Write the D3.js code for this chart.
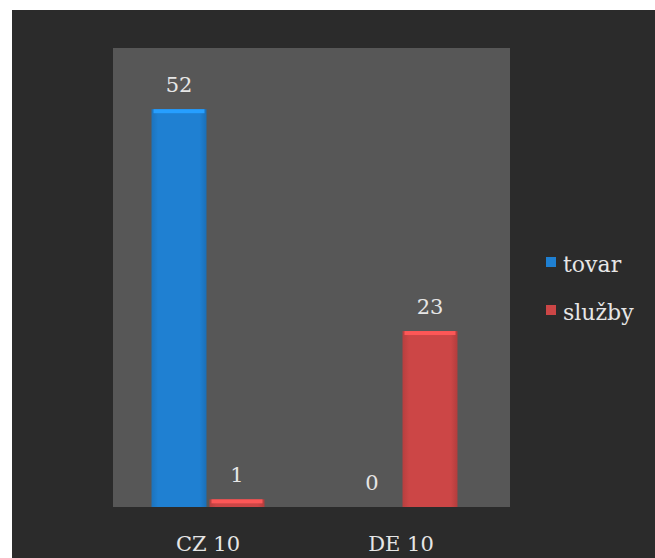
<!DOCTYPE html>
<html>
<head>
<meta charset="utf-8">
<script src="https://cdn.jsdelivr.net/npm/d3@7"></script>
<style>
  body { margin: 0; background: #ffffff; }
  svg { display: block; }
  .lbl { font-family: "DejaVu Serif", "Liberation Serif", serif; fill: #e6e6e6; }
</style>
</head>
<body>
<div id="chart"></div>
<script>
const categories = ["CZ 10", "DE 10"];
const seriesNames = ["tovar", "služby"];
const tovar = [52, 0];
const sluzby = [1, 23];
const yTicks = [0, 60];

const WIDTH = 655, HEIGHT = 558;
const COLORS = ["#1f80d2", "#cc4646"];
const plot = { left: 113, right: 510, top: 48, bottom: 507 };

window.onload = function() {
  let svg = d3.select("#chart").append("svg")
    .attr("width", WIDTH).attr("height", HEIGHT);

  let defs = svg.append("defs");
  COLORS.forEach(function(c, i) {
    let g = defs.append("linearGradient").attr("id", "grad" + i)
      .attr("x1", 0).attr("x2", 1).attr("y1", 0).attr("y2", 0);
    g.append("stop").attr("offset", "0%").attr("stop-color", d3.color(c).darker(0.3));
    g.append("stop").attr("offset", "12%").attr("stop-color", c);
    g.append("stop").attr("offset", "88%").attr("stop-color", c);
    g.append("stop").attr("offset", "100%").attr("stop-color", d3.color(c).darker(0.4));
  });

  // outer dark frame
  svg.append("rect").attr("x", 12).attr("y", 10)
    .attr("width", WIDTH - 12).attr("height", HEIGHT - 10)
    .attr("fill", "#2b2b2b");

  // plot area
  svg.append("rect").attr("x", plot.left).attr("y", plot.top)
    .attr("width", plot.right - plot.left).attr("height", plot.bottom - plot.top)
    .attr("fill", "#575757");

  // group centres sit a bit left of the panel centre in the original
  let x0 = d3.scaleBand().domain(categories)
    .range([111.5, 497.5]).paddingInner(0).paddingOuter(0);
  let x1 = d3.scaleBand().domain(seriesNames)
    .range([0, x0.bandwidth()]).paddingInner(0.052).paddingOuter(0.69);
  let y = d3.scaleLinear().domain([yTicks[0], yTicks[1]]).range([plot.bottom, plot.top]);

  let rows = categories.map(function(c, i) {
    return { cat: c, values: [tovar[i], sluzby[i]] };
  });

  let groups = svg.selectAll("g.grp").data(rows).enter().append("g")
    .attr("class", "grp")
    .attr("transform", function(d) { return "translate(" + x0(d.cat) + ",0)"; });

  groups.selectAll("rect.bar")
    .data(function(d) { return d.values.map(function(v, j) { return { v: v, j: j }; }); })
    .enter().append("rect")
    .attr("class", "bar")
    .attr("x", function(d) { return x1(seriesNames[d.j]); })
    .attr("y", function(d) { return y(d.v); })
    .attr("width", x1.bandwidth())
    .attr("height", function(d) { return y(0) - y(d.v); })
    .attr("fill", function(d) { return "url(#grad" + d.j + ")"; });

  // top highlight of bars
  groups.selectAll("rect.hl")
    .data(function(d) { return d.values.map(function(v, j) { return { v: v, j: j }; }).filter(function(d) { return d.v > 0; }); })
    .enter().append("rect")
    .attr("class", "hl")
    .attr("x", function(d) { return x1(seriesNames[d.j]) + 2; })
    .attr("y", function(d) { return y(d.v); })
    .attr("width", x1.bandwidth() - 4)
    .attr("height", function(d) { return Math.min(4, y(0) - y(d.v)); })
    .attr("fill", function(d) { return d3.color(COLORS[d.j]).brighter(0.6); });

  groups.selectAll("text.val")
    .data(function(d) { return d.values.map(function(v, j) { return { v: v, j: j }; }); })
    .enter().append("text")
    .attr("class", "lbl val")
    .attr("x", function(d) { return x1(seriesNames[d.j]) + x1.bandwidth() / 2; })
    .attr("y", function(d) { return y(d.v) - 17; })
    .attr("text-anchor", "middle")
    .style("font-size", "21px")
    .text(function(d) { return d.v; });

  // category axis labels
  let xAxis = svg.append("g")
    .attr("transform", "translate(0," + plot.bottom + ")")
    .call(d3.axisBottom(x0).tickSize(0).tickPadding(0));
  xAxis.select(".domain").remove();
  xAxis.selectAll("text")
    .attr("class", "lbl")
    .attr("dy", 0).attr("y", 44)
    .style("font-size", "21px");

  // legend
  let legend = svg.append("g").attr("transform", "translate(546,257)");
  seriesNames.forEach(function(s, i) {
    legend.append("rect").attr("x", 0).attr("y", i * 48)
      .attr("width", 10).attr("height", 10).attr("fill", COLORS[i]);
    legend.append("text").attr("class", "lbl")
      .attr("x", 17).attr("y", i * 48 + 15)
      .style("font-size", "22px")
      .text(s);
  });
};
</script>
</body>
</html>
